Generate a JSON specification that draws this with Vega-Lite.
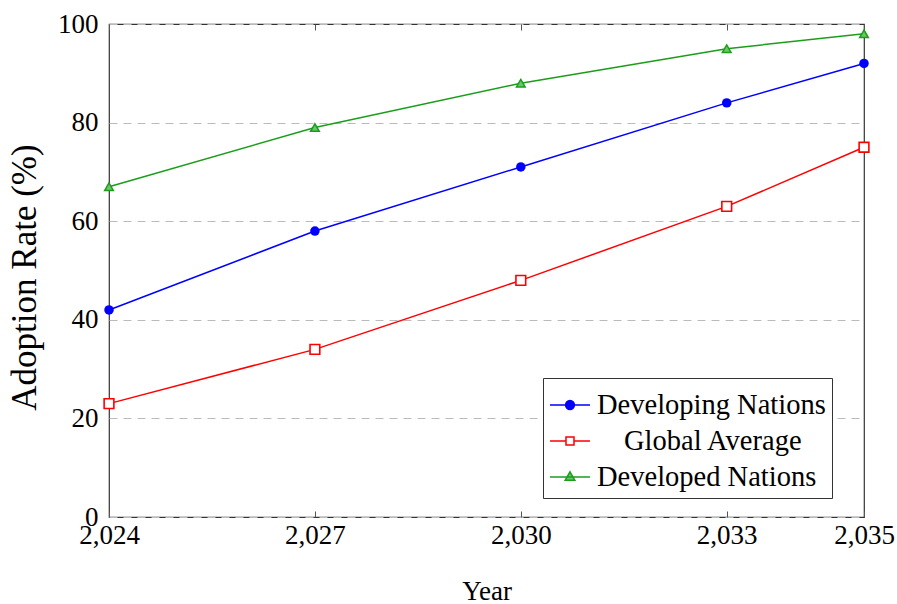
{
  "$schema": "https://vega.github.io/schema/vega-lite/v6.json",
  "width": 755,
  "height": 493,
  "autosize": {"type": "none"},
  "padding": {"left": 109, "top": 24, "right": 33, "bottom": 87},
  "config": {
    "font": "Liberation Serif",
    "view": {"stroke": "#333333", "strokeWidth": 1.2}
  },
  "data": {
    "values": [
      {"year": 2024, "rate": 42, "series": "Developing Nations"},
      {"year": 2027, "rate": 58, "series": "Developing Nations"},
      {"year": 2030, "rate": 71, "series": "Developing Nations"},
      {"year": 2033, "rate": 84, "series": "Developing Nations"},
      {"year": 2035, "rate": 92, "series": "Developing Nations"},
      {"year": 2024, "rate": 23, "series": "Global Average"},
      {"year": 2027, "rate": 34, "series": "Global Average"},
      {"year": 2030, "rate": 48, "series": "Global Average"},
      {"year": 2033, "rate": 63, "series": "Global Average"},
      {"year": 2035, "rate": 75, "series": "Global Average"},
      {"year": 2024, "rate": 67, "series": "Developed Nations"},
      {"year": 2027, "rate": 79, "series": "Developed Nations"},
      {"year": 2030, "rate": 88, "series": "Developed Nations"},
      {"year": 2033, "rate": 95, "series": "Developed Nations"},
      {"year": 2035, "rate": 98, "series": "Developed Nations"}
    ]
  },
  "resolve": {"axis": {"x": "independent"}},
  "layer": [
    {
      "mark": {"type": "line", "strokeWidth": 1.5},
      "encoding": {
        "x": {
          "field": "year", "type": "quantitative",
          "scale": {"domain": [2024, 2035], "nice": false, "zero": false},
          "axis": {
            "values": [2024, 2027, 2030, 2033, 2035], "format": ",",
            "title": "Year", "titleFontSize": 27, "titleFontWeight": "normal", "titleColor": "black", "titlePadding": 30,
            "labelFontSize": 27, "labelColor": "black", "labelPadding": 11, "labelFlush": false, "labelOverlap": false,
            "tickSize": -6, "tickColor": "#555555", "tickWidth": 1, "domain": false, "grid": false
          }
        },
        "y": {
          "field": "rate", "type": "quantitative",
          "scale": {"domain": [0, 100], "nice": false},
          "axis": {
            "values": [0, 20, 40, 60, 80, 100],
            "title": "Adoption Rate (%)", "titleFontSize": 35, "titleFontWeight": "normal", "titleColor": "black", "titlePadding": 15, "titleY": 253,
            "labelFontSize": 27, "labelColor": "black", "labelPadding": 11,
            "tickSize": 0, "domain": false,
            "grid": true, "gridDash": [8, 6], "gridColor": "#bbbbbb", "gridWidth": 1.2
          }
        },
        "color": {
          "field": "series", "type": "nominal",
          "scale": {
            "domain": ["Developing Nations", "Global Average", "Developed Nations"],
            "range": ["#0000ff", "#ff0000", "#1a9e1a"]
          },
          "legend": {
            "orient": "none", "legendX": 434, "legendY": 354,
            "title": null, "strokeColor": "#333333", "fillColor": "white", "padding": 6,
            "labelFontSize": 28.5, "labelColor": "black", "labelOffset": 6, "labelLimit": 400,
            "symbolSize": 1600, "symbolStrokeWidth": 1.5, "rowPadding": -3,
            "encode": {
              "symbols": {
                "update": {
                  "shape": {"signal": "datum.value === 'Developing Nations' ? 'M-1,0H1M-0.22,0A0.22,0.22 0 1,0 0.22,0A0.22,0.22 0 1,0 -0.22,0Z' : datum.value === 'Global Average' ? 'M-1,0H-0.2M0.2,0H1M-0.2,-0.2H0.2V0.2H-0.2Z' : 'M-1,0H1M0,-0.26L0.24,0.16H-0.24Z'"},
                  "fill": {"signal": "datum.value === 'Developing Nations' ? '#0000ff' : datum.value === 'Global Average' ? '#ffffff' : '#6cc46c'"}
                }
              },
              "labels": {
                "update": {
                  "dx": {"signal": "datum.value === 'Global Average' ? 27 : 0"}
                }
              }
            }
          }
        }
      }
    },
    {
      "transform": [{"filter": "datum.series === 'Developing Nations'"}],
      "mark": {"type": "point", "shape": "circle", "filled": true, "color": "#0000ff", "size": 90, "opacity": 1},
      "encoding": {
        "x": {
          "field": "year", "type": "quantitative",
          "axis": {"orient": "top", "values": [2024, 2027, 2030, 2033, 2035], "labels": false, "title": null, "tickSize": -6, "tickColor": "#555555", "tickWidth": 1, "domain": false, "grid": false}
        },
        "y": {"field": "rate", "type": "quantitative"}
      }
    },
    {
      "transform": [{"filter": "datum.series === 'Global Average'"}],
      "mark": {"type": "point", "shape": "square", "filled": false, "fill": "#ffffff", "stroke": "#ff0000", "strokeWidth": 1.6, "size": 95, "opacity": 1},
      "encoding": {
        "x": {"field": "year", "type": "quantitative", "axis": null},
        "y": {"field": "rate", "type": "quantitative"}
      }
    },
    {
      "transform": [{"filter": "datum.series === 'Developed Nations'"}],
      "mark": {"type": "point", "shape": "triangle-up", "filled": false, "fill": "#6cc46c", "stroke": "#1a9e1a", "strokeWidth": 1.5, "size": 75, "opacity": 1},
      "encoding": {
        "x": {"field": "year", "type": "quantitative", "axis": null},
        "y": {"field": "rate", "type": "quantitative"}
      }
    }
  ]
}
